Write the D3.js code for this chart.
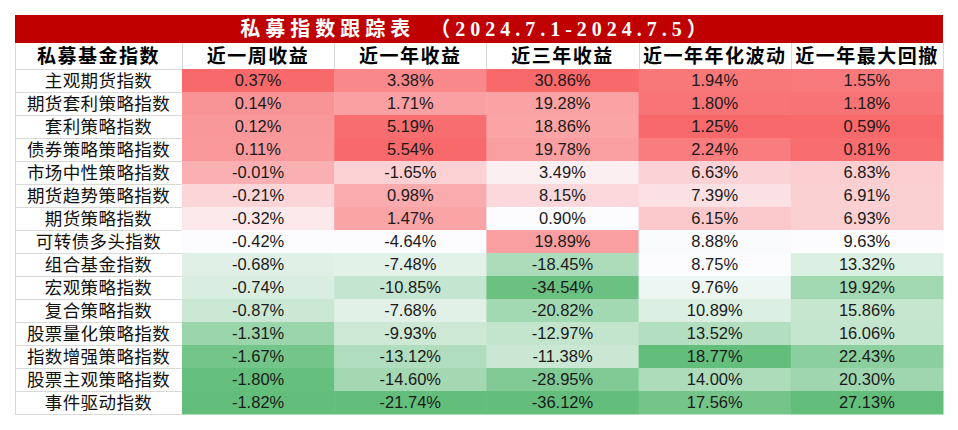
<!DOCTYPE html>
<html>
<head>
<meta charset="utf-8">
<script src="https://cdn.jsdelivr.net/npm/d3@7"></script>
<style>
  body { margin: 0; background: #fff; }
  svg { display: block; }
</style>
</head>
<body>
<script>
let width = 958
let height = 430
let margin = { top: 15, left: 15, right: 15 }

let titleText = '私募指数跟踪表　（2024.7.1-2024.7.5）'
let headers = ['私募基金指数', '近一周收益', '近一年收益', '近三年收益', '近一年年化波动', '近一年最大回撤']

let names = ['主观期货指数', '期货套利策略指数', '套利策略指数', '债券策略策略指数', '市场中性策略指数',
  '期货趋势策略指数', '期货策略指数', '可转债多头指数', '组合基金指数', '宏观策略指数',
  '复合策略指数', '股票量化策略指数', '指数增强策略指数', '股票主观策略指数', '事件驱动指数']

let weekRet = [0.37, 0.14, 0.12, 0.11, -0.01, -0.21, -0.32, -0.42, -0.68, -0.74, -0.87, -1.31, -1.67, -1.80, -1.82]
let yearRet = [3.38, 1.71, 5.19, 5.54, -1.65, 0.98, 1.47, -4.64, -7.48, -10.85, -7.68, -9.93, -13.12, -14.60, -21.74]
let threeYearRet = [30.86, 19.28, 18.86, 19.78, 3.49, 8.15, 0.90, 19.89, -18.45, -34.54, -20.82, -12.97, -11.38, -28.95, -36.12]
let yearVol = [1.94, 1.80, 1.25, 2.24, 6.63, 7.39, 6.15, 8.88, 8.75, 9.76, 10.89, 13.52, 18.77, 14.00, 17.56]
let yearDrawdown = [1.55, 1.18, 0.59, 0.81, 6.83, 6.91, 6.93, 9.63, 13.32, 19.92, 15.86, 16.06, 22.43, 20.30, 27.13]

// red = high for returns, red = low for risk columns
let columns = [
  { values: weekRet, highIsRed: true },
  { values: yearRet, highIsRed: true },
  { values: threeYearRet, highIsRed: true },
  { values: yearVol, highIsRed: false },
  { values: yearDrawdown, highIsRed: false }
]

let red = '#F8696B', mid = '#FCFCFF', green = '#63BE7B'
let titleH = 28, headerH = 26, rowH = 23
let left = margin.left, right = width - margin.right
let firstColW = 167

let x = d3.scaleBand()
  .domain(d3.range(columns.length))
  .range([left + firstColW, right])

let yTop = margin.top + titleH + headerH
let y = d3.scaleBand()
  .domain(names)
  .range([yTop, yTop + rowH * names.length])

let svg = d3.select('body')
  .append('svg')
  .attr('width', width)
  .attr('height', height)

// title bar
svg.append('rect')
  .attr('x', left).attr('y', margin.top)
  .attr('width', right - left).attr('height', titleH)
  .attr('fill', '#C00000')

svg.append('text')
  .attr('x', (left + right) / 2 - 3)
  .attr('y', margin.top + titleH / 2)
  .attr('dy', '0.36em')
  .attr('text-anchor', 'middle')
  .attr('fill', '#fff')
  .style('font-family', '"Liberation Serif", "Noto Sans CJK SC", serif')
  .style('font-size', '20px')
  .style('font-weight', 'bold')
  .style('letter-spacing', '5px')
  .text(titleText)

// grid lines for label column and header
let grid = svg.append('g')
  .attr('stroke', '#d9d9d9')
  .attr('stroke-width', 1)
  .attr('shape-rendering', 'crispEdges')

let headerY = margin.top + titleH
let colEdges = [left, left + firstColW].concat(x.domain().map(i => x(i) + x.bandwidth()))
colEdges.forEach(cx => {
  grid.append('line')
    .attr('x1', cx + 0.5).attr('x2', cx + 0.5)
    .attr('y1', headerY).attr('y2', yTop)
})
grid.append('line')
  .attr('x1', left + 0.5).attr('x2', left + 0.5)
  .attr('y1', headerY).attr('y2', y.range()[1])
grid.append('line')
  .attr('x1', left + firstColW + 0.5).attr('x2', left + firstColW + 0.5)
  .attr('y1', yTop).attr('y2', y.range()[1])
d3.range(names.length + 1).forEach(i => {
  let ly = yTop + i * rowH
  grid.append('line')
    .attr('x1', left).attr('x2', i === 0 ? right : left + firstColW)
    .attr('y1', ly + 0.5).attr('y2', ly + 0.5)
})

// header text
let headerX = [left + firstColW / 2].concat(x.domain().map(i => x(i) + x.bandwidth() / 2))
svg.append('g')
  .selectAll('text')
  .data(headers)
  .enter()
  .append('text')
  .attr('x', (d, i) => headerX[i])
  .attr('y', headerY + headerH / 2)
  .attr('dy', '0.36em')
  .attr('text-anchor', 'middle')
  .style('font-family', '"Noto Sans CJK SC", sans-serif')
  .style('font-size', '19px')
  .style('font-weight', 'bold')
  .style('letter-spacing', '1.5px')
  .text(d => d)

// row labels
svg.append('g')
  .selectAll('text')
  .data(names)
  .enter()
  .append('text')
  .attr('x', left + firstColW / 2)
  .attr('y', d => y(d) + rowH / 2)
  .attr('dy', '0.36em')
  .attr('text-anchor', 'middle')
  .style('font-family', '"Noto Sans CJK SC", sans-serif')
  .style('font-size', '17.5px')
  .style('letter-spacing', '0.4px')
  .style('fill', '#111')
  .text(d => d)

// heat cells
columns.forEach((col, ci) => {
  let sorted = col.values.slice().sort(d3.ascending)
  let domain = [d3.min(sorted), d3.median(sorted), d3.max(sorted)]
  let color = d3.scaleLinear()
    .domain(domain)
    .range(col.highIsRed ? [green, mid, red] : [red, mid, green])

  let g = svg.append('g')
  g.selectAll('rect')
    .data(col.values)
    .enter()
    .append('rect')
    .attr('x', x(ci))
    .attr('y', (d, i) => y(names[i]))
    .attr('width', x.bandwidth() + 0.5)
    .attr('height', rowH + 0.5)
    .attr('fill', d => color(d))

  g.selectAll('text')
    .data(col.values)
    .enter()
    .append('text')
    .attr('x', x(ci) + x.bandwidth() / 2)
    .attr('y', (d, i) => y(names[i]) + rowH / 2)
    .attr('dy', '0.36em')
    .attr('text-anchor', 'middle')
    .style('font-family', '"Liberation Sans Narrow", "Arial Narrow", "Liberation Sans", sans-serif')
    .style('font-size', '16.5px')
    .style('fill', '#1a1a1a')
    .text(d => d3.format('.2f')(d).replace('−', '-') + '%')
})
</script>
</body>
</html>
